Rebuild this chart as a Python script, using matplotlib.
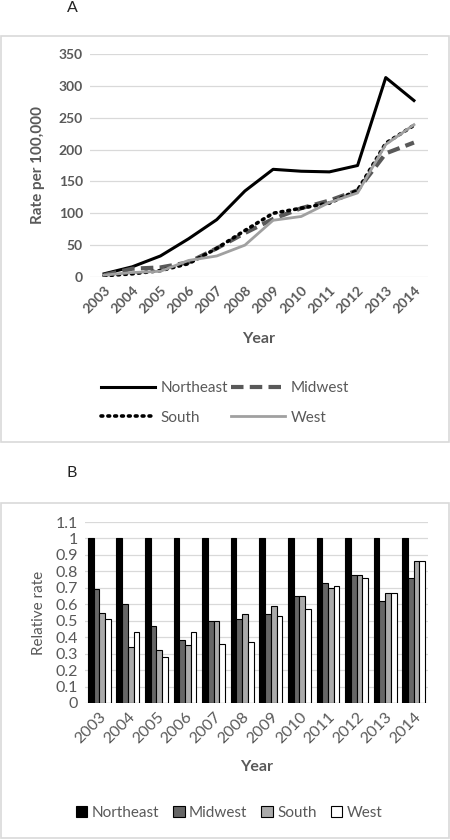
import numpy as np
import matplotlib
matplotlib.use('Agg')
import matplotlib.pyplot as plt
from matplotlib.patches import Rectangle

plt.rcParams['font.family'] = ['Lato', 'DejaVu Sans']

years = ['2003', '2004', '2005', '2006', '2007', '2008',
         '2009', '2010', '2011', '2012', '2013', '2014']

# panel A: rate per 100,000
northeast = [5, 16, 33, 60, 90, 135, 169, 166, 165, 175, 313, 277]
midwest = [3, 13, 15, 23, 45, 69, 91, 108, 120, 136, 194, 211]
south = [2, 5, 10, 21, 45, 73, 100, 108, 116, 136, 210, 238]
west = [3, 7, 9, 26, 33, 50, 89, 95, 117, 132, 208, 239]

# panel B: rate relative to Northeast
rel_northeast = [1, 1, 1, 1, 1, 1, 1, 1, 1, 1, 1, 1]
rel_midwest = [0.69, 0.60, 0.47, 0.38, 0.50, 0.51, 0.54, 0.65, 0.73, 0.78, 0.62, 0.76]
rel_south = [0.55, 0.34, 0.32, 0.35, 0.50, 0.54, 0.59, 0.65, 0.70, 0.78, 0.67, 0.86]
rel_west = [0.51, 0.43, 0.28, 0.43, 0.36, 0.37, 0.53, 0.57, 0.71, 0.76, 0.67, 0.86]

txt = '#595959'
grid = '#d9d9d9'

fig = plt.figure(figsize=(4.5, 8.4), dpi=100)

# panel frames
fig.patches.append(Rectangle((0.003, 1 - 442 / 840), 0.994, 406 / 840, transform=fig.transFigure,
                             fill=False, edgecolor=grid, lw=1.2))
fig.patches.append(Rectangle((0.003, 1 - 838 / 840), 0.994, 335 / 840, transform=fig.transFigure,
                             fill=False, edgecolor=grid, lw=1.2))
fig.text(72 / 450, 1 - 8 / 840, 'A', fontsize=11.5, ha='center', va='center', color='#222222')
fig.text(72 / 450, 1 - 473 / 840, 'B', fontsize=11.5, ha='center', va='center', color='#222222')

x = np.arange(len(years))

# ---- panel A ----
axA = fig.add_axes([90 / 450, 1 - 277 / 840, 338 / 450, 223 / 840])
hNE, = axA.plot(x, northeast, color='black', lw=2.2, label='Northeast')
hMW, = axA.plot(x, midwest, color='#595959', lw=3, ls=(0, (3, 1.5)), label='Midwest')
hS, = axA.plot(x, south, color='black', lw=2.6, ls=(0, (0.5, 1.4)), dash_capstyle='round', label='South')
hW, = axA.plot(x, west, color='#a0a0a0', lw=2, label='West')
axA.set_xlim(-0.5, 11.5)
axA.set_ylim(0, 350)
axA.set_yticks(np.arange(0, 351, 50))
axA.set_xticks(x)
axA.set_xticklabels(years, rotation=45, ha='right', rotation_mode='anchor')
axA.tick_params(length=0, labelsize=10, labelcolor=txt, pad=5)
for lab in axA.get_xticklabels() + axA.get_yticklabels():
    lab.set_fontweight('bold')
axA.grid(axis='y', color=grid, lw=0.9)
axA.set_axisbelow(True)
for s in axA.spines.values():
    s.set_visible(False)
axA.set_ylabel('Rate per 100,000', fontsize=11, fontweight='bold', color=txt, labelpad=10)
axA.set_xlabel('Year', fontsize=11.5, fontweight='bold', color=txt, labelpad=12)
# order so rows read Northeast, Midwest / South, West
axA.legend([hNE, hS, hMW, hW], ['Northeast', 'South', 'Midwest', 'West'],
           ncol=2, loc='center', bbox_to_anchor=(0.40, -0.565), frameon=False,
           fontsize=11, labelcolor=txt, handlelength=3.5, columnspacing=0.2,
           handletextpad=0.4, labelspacing=1.0)

# ---- panel B ----
axB = fig.add_axes([85 / 450, 1 - 703 / 840, 343 / 450, 181 / 840])
w = 0.2
axB.bar(x - 1.5 * w, rel_northeast, w, color='black', edgecolor='black', lw=0.8, label='Northeast')
axB.bar(x - 0.5 * w, rel_midwest, w, color='#666666', edgecolor='black', lw=0.8, label='Midwest')
axB.bar(x + 0.5 * w, rel_south, w, color='#aaaaaa', edgecolor='black', lw=0.8, label='South')
axB.bar(x + 1.5 * w, rel_west, w, color='white', edgecolor='black', lw=0.8, label='West')
axB.set_xlim(-0.5, 11.5)
axB.set_ylim(0, 1.1)
yt = np.round(np.arange(0, 1.11, 0.1), 1)
axB.set_yticks(yt)
axB.set_yticklabels([f'{v:g}' for v in yt])
axB.set_xticks(x)
axB.set_xticklabels(years, rotation=45, ha='right', rotation_mode='anchor')
axB.tick_params(length=0, labelsize=11.5, labelcolor=txt, pad=5)
axB.grid(axis='y', color=grid, lw=0.9)
axB.set_axisbelow(True)
for s in axB.spines.values():
    s.set_visible(False)
axB.set_ylabel('Relative rate', fontsize=11, color=txt, labelpad=7)
axB.set_xlabel('Year', fontsize=11.5, fontweight='bold', color=txt, labelpad=10)
axB.legend(ncol=4, loc='center', bbox_to_anchor=(0.42, -0.608), frameon=False,
           fontsize=11, labelcolor=txt, handlelength=0.75, handleheight=0.75,
           columnspacing=0.9, handletextpad=0.3)

fig.savefig('out.png', dpi=100)
